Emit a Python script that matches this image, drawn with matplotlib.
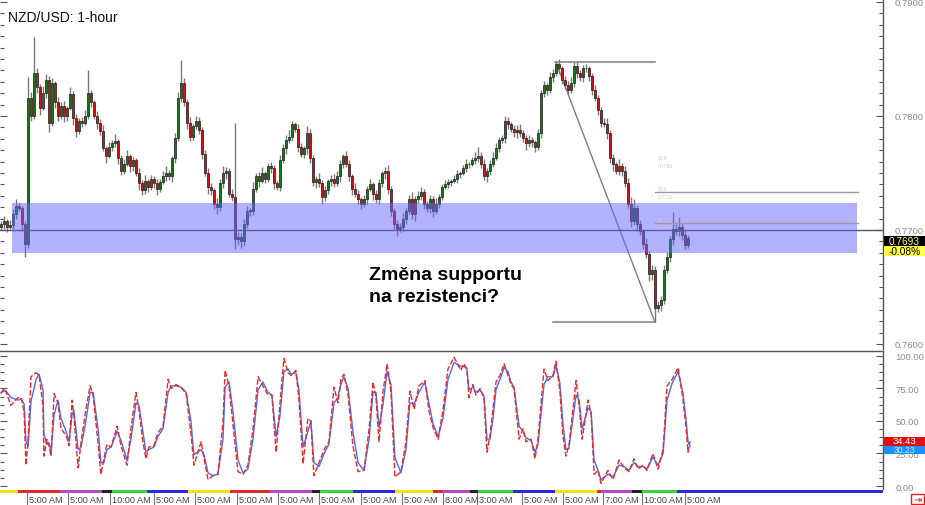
import numpy as np
import matplotlib
matplotlib.use("Agg")
import matplotlib.pyplot as plt
from matplotlib.patches import Rectangle
from matplotlib.lines import Line2D
from matplotlib.transforms import blended_transform_factory
from matplotlib.ticker import MultipleLocator, FixedLocator

plt.rcParams['font.family'] = ['Liberation Sans', 'DejaVu Sans']

# ---------------- data (prices in 1/10000) ----------------
first_open = 7703
closes = [
    7705, 7708, 7703, 7704, 7714, 7721, 7719, 7705, 7688, 7816,
    7800, 7838, 7825, 7807, 7820, 7832, 7794, 7829, 7812, 7800,
    7809, 7800, 7807, 7819, 7798, 7787, 7796, 7794, 7800, 7820,
    7812, 7800, 7794, 7787, 7772, 7765, 7773, 7776, 7778, 7763,
    7752, 7758, 7765, 7756, 7761, 7750, 7741, 7735, 7743, 7738,
    7745, 7741, 7736, 7742, 7747, 7750, 7747, 7763, 7781, 7816,
    7829, 7812, 7794, 7782, 7791, 7796, 7788, 7767, 7750, 7738,
    7735, 7723, 7720, 7741, 7750, 7752, 7732, 7729, 7692, 7694,
    7690, 7705, 7717, 7717, 7736, 7747, 7743, 7750, 7745, 7756,
    7754, 7741, 7738, 7761, 7772, 7779, 7782, 7793, 7789, 7773,
    7767, 7772, 7785, 7763, 7742, 7745, 7741, 7729, 7735, 7743,
    7745, 7741, 7747, 7758, 7765, 7758, 7747, 7736, 7732, 7727,
    7723, 7727, 7736, 7740, 7732, 7727, 7741, 7750, 7752, 7736,
    7717, 7705, 7701, 7703, 7710, 7717, 7727, 7714, 7727, 7730,
    7733, 7723, 7719, 7727, 7717, 7723, 7729, 7738, 7740, 7742,
    7743, 7745, 7749, 7750, 7754, 7758, 7758, 7761, 7763, 7765,
    7758, 7747, 7752, 7758, 7763, 7772, 7779, 7781, 7796, 7793,
    7789, 7786, 7788, 7785, 7781, 7776, 7779, 7777, 7773, 7785,
    7820, 7827, 7823, 7834, 7838, 7846, 7842, 7832, 7827, 7823,
    7829, 7844, 7838, 7834, 7842, 7842, 7835, 7823, 7816, 7805,
    7794, 7793, 7785, 7763, 7758, 7752, 7756, 7752, 7741, 7723,
    7708, 7719, 7705, 7699, 7688, 7679, 7661, 7665, 7632, 7634,
    7639, 7665, 7676, 7692, 7701, 7699, 7703, 7696, 7687, 7693,
]
wick_up = [
    3, 4, 2, 5, 4, 6, 3, 2, 3, 18,
    5, 31, 4, 3, 6, 5, 3, 4, 2, 5,
    3, 4, 2, 6, 3, 4, 2, 3, 5, 20,
    3, 2, 4, 3, 5, 2, 4, 3, 6, 2,
    3, 4, 5, 2, 3, 2, 4, 3, 5, 2,
    3, 2, 4, 3, 5, 6, 3, 2, 4, 5,
    20, 4, 3, 5, 2, 4, 3, 2, 3, 4,
    3, 2, 5, 4, 6, 3, 2, 4, 65, 4,
    3, 5, 4, 2, 6, 3, 4, 5, 2, 3,
    4, 3, 2, 5, 3, 4, 6, 3, 2, 4,
    3, 2, 6, 4, 3, 2, 5, 3, 4, 2,
    3, 4, 5, 3, 2, 4, 3, 2, 5, 3,
    2, 4, 3, 5, 2, 3, 4, 2, 3, 5,
    3, 2, 4, 3, 5, 2, 4, 6, 3, 4,
    5, 3, 2, 4, 3, 5, 3, 2, 4, 3,
    2, 3, 4, 2, 3, 4, 2, 3, 5, 8,
    3, 4, 2, 3, 5, 4, 3, 2, 4, 3,
    2, 3, 4, 5, 3, 2, 4, 3, 2, 4,
    3, 4, 2, 5, 3, 1, 4, 2, 3, 4,
    5, 3, 4, 2, 3, 4, 2, 3, 4, 2,
    3, 4, 5, 3, 4, 2, 6, 3, 4, 5,
    6, 8, 3, 4, 2, 5, 3, 4, 3, 4,
    3, 4, 5, 3, 15, 4, 8, 3, 4, 3,
]
wick_dn = [
    3, 4, 5, 2, 3, 4, 2, 6, 12, 4,
    4, 3, 5, 6, 2, 4, 8, 3, 5, 4,
    3, 5, 4, 2, 6, 5, 3, 4, 2, 3,
    4, 3, 5, 4, 3, 6, 2, 4, 3, 5,
    4, 3, 2, 5, 4, 3, 6, 4, 3, 5,
    3, 4, 5, 3, 2, 4, 3, 5, 4, 3,
    4, 3, 5, 4, 3, 2, 4, 5, 3, 6,
    4, 5, 6, 3, 4, 5, 3, 4, 9, 5,
    6, 4, 3, 5, 4, 3, 5, 2, 4, 3,
    4, 5, 3, 4, 2, 5, 3, 4, 3, 5,
    3, 4, 5, 4, 3, 5, 3, 6, 4, 3,
    4, 3, 2, 5, 4, 3, 4, 5, 3, 4,
    5, 3, 4, 2, 6, 3, 4, 3, 5, 4,
    5, 4, 6, 3, 4, 5, 3, 4, 6, 3,
    4, 5, 3, 4, 6, 3, 4, 3, 2, 3,
    3, 2, 4, 3, 2, 3, 4, 2, 3, 3,
    4, 3, 5, 4, 3, 2, 4, 3, 5, 4,
    3, 4, 5, 3, 4, 6, 3, 4, 5, 3,
    4, 3, 5, 3, 4, 3, 5, 4, 3, 5,
    3, 4, 5, 3, 4, 3, 4, 5, 3, 4,
    4, 3, 5, 4, 6, 3, 4, 5, 3, 4,
    5, 4, 6, 3, 5, 4, 6, 5, 13, 4,
    5, 4, 3, 4, 5, 3, 4, 5, 4, 3,
]

# Stochastic (bar position, %K red, %D blue)
stoch_bar = [
    0, 1, 1.7, 3.3, 5.7, 6.7, 7.7, 8.3, 9, 10,
    11.7, 12.7, 14, 14.3, 15.3, 16, 16.7, 17.7, 19, 20,
    21.7, 22.7, 23.7, 24.3, 25.7, 26.7, 28.3, 29.7, 30.7, 32.3,
    33.3, 34.3, 35.3, 36.7, 38.7, 40, 42, 43.3, 45, 46,
    47.3, 48.3, 49.3, 51, 52.3, 54, 55.7, 56.7, 58.3, 60,
    61.7, 63.3, 64.3, 66.7, 67.7, 69, 70.7, 72.3, 74, 74.7,
    76, 77.3, 79, 80.7, 82.3, 84, 85.7, 87.3, 89, 90.3,
    91.7, 93, 94.3, 95.7, 96.7, 98.3, 99.3, 100.7, 102.3, 103.3,
    104.3, 106, 107.7, 109.3, 111, 112.3, 113.3, 114.3, 115.7, 117.3,
    119, 121, 122.7, 124, 125, 126, 127.3, 128.7, 130, 131.3,
    133.3, 135, 136.3, 137.7, 139.3, 141.3, 142.7, 144, 145.7, 147.3,
    149, 151, 153.3, 154.3, 155.3, 156, 157.3, 158.3, 159.7, 161,
    162, 163, 164, 165, 166.3, 167.7, 169, 170, 171, 172.7,
    174, 175, 176.7, 178, 179, 181, 182.3, 184, 185, 186.3,
    187.3, 188.3, 189.3, 191.7, 192.7, 193.7, 195.7, 196.7, 197.7, 199,
    200, 202.3, 204, 206, 207.7, 209.3, 211, 212.3, 214, 215.3,
    217.3, 219, 220.7, 222, 223.7, 225.7, 227.3, 228.3, 229, 229.7,
]
stoch_k = [
    71, 75, 72, 62, 68, 68, 57, 16, 34, 84,
    87, 85, 62, 23, 36, 31, 23, 71, 64, 44,
    39, 31, 66, 54, 14, 34, 59, 77, 70, 34,
    9, 21, 32, 30, 46, 31, 16, 44, 72, 58,
    34, 21, 30, 31, 41, 46, 82, 75, 78, 76,
    71, 41, 16, 34, 21, 5, 8, 9, 49, 89,
    77, 48, 11, 9, 16, 44, 84, 77, 70, 70,
    26, 64, 98, 87, 85, 89, 67, 17, 52, 50,
    8, 18, 28, 34, 76, 64, 82, 86, 70, 31,
    11, 12, 44, 80, 68, 34, 72, 94, 72, 7,
    11, 34, 73, 59, 77, 81, 57, 45, 36, 58,
    90, 99, 89, 94, 90, 68, 78, 70, 75, 67,
    26, 39, 59, 80, 85, 94, 85, 78, 75, 36,
    44, 34, 36, 21, 36, 90, 81, 85, 96, 73,
    39, 23, 31, 81, 62, 36, 66, 55, 9, 12,
    2, 12, 5, 20, 14, 11, 21, 13, 16, 12,
    25, 13, 28, 77, 82, 91, 67, 46, 26, 34.43,
]
stoch_d = [
    72, 73, 73, 68, 66, 67, 63, 35, 30, 65,
    82, 86, 74, 40, 32, 33, 27, 55, 66, 52,
    42, 34, 55, 58, 28, 30, 50, 72, 72, 45,
    18, 18, 28, 30, 42, 35, 20, 36, 64, 62,
    42, 26, 28, 30, 38, 44, 72, 77, 77, 76,
    72, 50, 24, 28, 24, 10, 8, 9, 36, 76,
    80, 58, 20, 10, 13, 36, 74, 80, 72, 70,
    38, 54, 88, 90, 86, 87, 74, 30, 42, 50,
    18, 15, 25, 32, 64, 68, 78, 84, 75, 42,
    18, 12, 36, 72, 72, 45, 62, 88, 78, 22,
    10, 28, 64, 63, 72, 80, 63, 48, 38, 52,
    82, 95, 92, 92, 90, 74, 76, 72, 74, 69,
    36, 36, 52, 74, 82, 91, 88, 80, 76, 46,
    42, 37, 35, 26, 32, 78, 84, 84, 93, 79,
    48, 28, 29, 70, 66, 44, 60, 57, 20, 12,
    5, 9, 7, 16, 15, 12, 18, 15, 15, 13,
    22, 16, 25, 66, 79, 88, 72, 52, 34, 30.23,
]

zone_low, zone_high = 0.7680, 0.7724
level_line = 0.7700
fib_hi_bar, fib_lo_bar = 185, 218
fib_ext_bar = 285.7
fib_levels = [0.618, 0.5, 0.382]
last_price_label = "0.7693"
change_label = "-0.08%"
price_ticks = [0.7600, 0.7700, 0.7800, 0.7900]
stoch_ticks = [0, 25, 50, 75, 100]

time_bars = [8.7, 22.3, 36.3, 51, 64.7, 78.7, 92.3, 106, 120, 133.7,
             147.3, 158.7, 173.7, 187.3, 200.7, 213.7, 228]
time_labels = ["5:00 AM", "5:00 AM", "10:00 AM", "5:00 AM", "5:00 AM",
               "5:00 AM", "5:00 AM", "5:00 AM", "5:00 AM", "5:00 AM",
               "8:00 AM", "3:00 AM", "5:00 AM", "5:00 AM", "7:00 AM",
               "10:00 AM", "5:00 AM"]
day_segments = [
    (-0.4, 5.7, '#f2e21a'), (5.7, 19.7, '#e02a2a'), (19.7, 33.7, '#b24ac4'),
    (33.7, 37.0, '#222222'), (37.0, 48.7, '#3fd13f'), (48.7, 62.3, '#2a2ae0'),
    (62.3, 76.3, '#f2e21a'), (76.3, 89.7, '#e02a2a'), (89.7, 103.7, '#b24ac4'),
    (103.7, 106.3, '#222222'), (106.3, 117.3, '#3fd13f'), (117.3, 131.3, '#2a2ae0'),
    (131.3, 144.0, '#f2e21a'), (144.0, 147.3, '#e02a2a'), (147.3, 156.3, '#b24ac4'),
    (156.3, 159.0, '#222222'), (159.0, 170.7, '#3fd13f'), (170.7, 184.7, '#2a2ae0'),
    (184.7, 198.7, '#f2e21a'), (198.7, 200.0, '#e02a2a'), (200.0, 210.3, '#b24ac4'),
    (210.3, 213.7, '#222222'), (213.7, 225.3, '#3fd13f'), (225.3, 294.0, '#2a2ae0'),
]

# ---------------- figure ----------------
W, H = 925, 506
fig = plt.figure(figsize=(W / 100, H / 100), dpi=100)
fig.patch.set_facecolor('white')


def fx(p):
    return p / W


def fy(p):
    return 1 - p / H


X_MIN, X_MAX = -1 / 3, 294
n = len(closes)
xs = np.arange(n)
c = np.array(closes) / 1e4
o = np.array([first_open] + closes[:-1]) / 1e4
hi = np.maximum(o, c) + np.array(wick_up) / 1e4
lo = np.minimum(o, c) - np.array(wick_dn) / 1e4

AX_COL = '#555555'
LBL_COL = '#8c8c8c'

# main price panel
ax = fig.add_axes([0, fy(350), fx(883), 350 / H])
ax.set_xlim(X_MIN, X_MAX)
ax.set_ylim(0.759561, 0.790263)
ax.vlines(xs, lo, hi, color='#7a7a7a', lw=1.0, zorder=2)
body = c - o
body = np.where(np.abs(body) < 0.00003, 0.00003, body)
cols = ['#137a13' if cc >= oo else '#d01010' for cc, oo in zip(c, o)]
ax.bar(xs, body, bottom=o, width=0.75, color=cols, edgecolor='#111111',
       linewidth=0.45, zorder=3)

ax.axhline(level_line, color='#555566', lw=1.0, zorder=4)
ax.add_patch(Rectangle((3.7, zone_low), fib_ext_bar - 0.4 - 3.7, zone_high - zone_low,
                       facecolor='#6666ff', alpha=0.5, edgecolor='none', zorder=5))

fib_hi = hi[fib_hi_bar]
fib_lo = lo[fib_lo_bar]
ax.plot([fib_hi_bar - 0.3, fib_lo_bar], [fib_hi, fib_hi], color='#7f7f7f', lw=1.1, zorder=4)
ax.plot([fib_hi_bar - 1, fib_lo_bar], [fib_lo, fib_lo], color='#7f7f7f', lw=1.1, zorder=4)
ax.plot([fib_hi_bar, fib_lo_bar], [fib_hi, fib_lo], color='#7f7f7f', lw=1.0, zorder=1.5)
for lvl in fib_levels:
    pr = fib_lo + lvl * (fib_hi - fib_lo)
    if lvl != 0.618:
        ax.plot([fib_lo_bar, fib_ext_bar], [pr, pr], color='#9a9aa6', lw=1.0, zorder=6)
    ax.text(fib_lo_bar + 0.8, pr + 0.00012, f"{lvl * 100:.1f}", fontsize=3.5,
            color='#c8c8c8', va='bottom', ha='left', zorder=6)
    ax.text(fib_lo_bar + 0.8, pr - 0.00012, f"{pr:.4f}", fontsize=3.5,
            color='#c8c8c8', va='top', ha='left', zorder=6)

ax.yaxis.set_major_locator(FixedLocator(price_ticks))
ax.yaxis.set_minor_locator(MultipleLocator(0.001))
ax.yaxis.set_major_formatter(lambda v, p: f"{v:.4f}")
ax.tick_params(axis='y', which='both', direction='in', left=True, right=True,
               labelleft=False, labelright=True, color=AX_COL, labelcolor=LBL_COL,
               labelsize=6.8, pad=8.5, width=0.8)
ax.tick_params(axis='y', which='major', length=5)
ax.tick_params(axis='y', which='minor', length=3)
ax.tick_params(axis='x', which='both', bottom=False, labelbottom=False)
for s in ['top', 'left', 'bottom']:
    ax.spines[s].set_visible(False)
ax.spines['right'].set_color(AX_COL)
ax.spines['right'].set_linewidth(1.0)

# stochastic panel
ax2 = fig.add_axes([0, fy(490), fx(883), 138 / H])
ax2.set_xlim(X_MIN, X_MAX)
ax2.set_ylim(-2.3, 103.8)
ax2.plot(stoch_bar, stoch_d, color='#4a6cf5', lw=1.0, zorder=3)
ax2.plot(stoch_bar, stoch_k, color='#e52b2b', lw=1.0, zorder=4, dashes=(4, 1.5))
ax2.yaxis.set_major_locator(FixedLocator(stoch_ticks))
ax2.yaxis.set_minor_locator(MultipleLocator(6.25))
ax2.yaxis.set_major_formatter(lambda v, p: f"{v:.2f}")
ax2.tick_params(axis='y', which='both', direction='in', left=True, right=True,
                labelleft=False, labelright=True, color=AX_COL, labelcolor=LBL_COL,
                labelsize=6.8, pad=9, width=0.8)
ax2.tick_params(axis='y', which='major', length=5)
ax2.tick_params(axis='y', which='minor', length=3)
ax2.tick_params(axis='x', which='both', bottom=False, labelbottom=False)
for s in ['left', 'bottom']:
    ax2.spines[s].set_visible(False)
for s in ['top', 'right']:
    ax2.spines[s].set_color(AX_COL)
    ax2.spines[s].set_linewidth(1.0)

# day colour strip
ax3 = fig.add_axes([0, fy(494), fx(883), 3 / H])
ax3.set_xlim(X_MIN, X_MAX)
ax3.set_ylim(0, 1)
for s0, s1, col in day_segments:
    ax3.axvspan(s0, s1, color=col, lw=0)
ax3.axis('off')

trans = blended_transform_factory(ax3.transData, fig.transFigure)
for b, lab in zip(time_bars, time_labels):
    fig.add_artist(Line2D([b, b], [fy(494), fy(506)], transform=trans,
                          color='#777777', lw=0.8))
    fig.text(0, 0, lab, transform=trans, fontsize=6.6, color='#444444',
             ha='left', va='center').set_position((b + 0.7, fy(500.5)))

# title and annotation
fig.text(fx(8), fy(17.5), 'NZD/USD: 1-hour', fontsize=10, va='center', ha='left',
         color='#111111')
fig.text(fx(369), fy(280), 'Změna supportu', fontsize=14, fontweight='bold',
         va='baseline', ha='left', color='black')
fig.text(fx(369), fy(302), 'na rezistenci?', fontsize=14, fontweight='bold',
         va='baseline', ha='left', color='black')


# right side badges
def badge(y0, y1, txt, fc, tc, fs=7.3):
    fig.add_artist(Rectangle((fx(884), fy(y1)), fx(925) - fx(884), (y1 - y0) / H,
                             transform=fig.transFigure, facecolor=fc, edgecolor='none'))
    fig.text(fx(904.5), fy((y0 + y1) / 2), txt, fontsize=fs, color=tc,
             ha='center', va='center')


badge(237, 247, last_price_label, 'black', '#ffff66')
badge(247, 257, change_label, '#ffff44', 'black')
badge(446.5, 455, f"{stoch_d[-1]:.2f}", '#1e8fff', '#cfe8ff', fs=6.2)
badge(437.5, 446.5, f"{stoch_k[-1]:.2f}", '#dd1111', 'white', fs=6.8)

# bottom-right scroll icon
fig.add_artist(Rectangle((fx(911), fy(505)), fx(13), 10 / H, transform=fig.transFigure,
                         facecolor='white', edgecolor='#dd2222', lw=1.0))
fig.text(fx(917.5), fy(500), '⇥', fontsize=7, color='#dd2222', ha='center', va='center',
         family='DejaVu Sans')

fig.savefig('out.png', dpi=100)
